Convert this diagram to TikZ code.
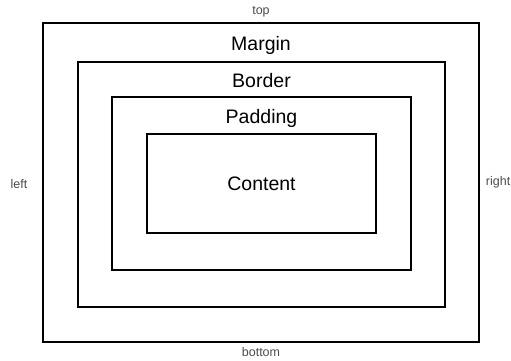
\documentclass[tikz,border=0pt]{standalone}
\usepackage{fontspec}
\setmainfont{Liberation Sans}
\usetikzlibrary{positioning}

\begin{document}
\begin{tikzpicture}[
  x=1pt, y=-1pt,
  layer/.style={draw, line width=1.2pt, inner sep=0pt, outer sep=0pt},
  boxlbl/.style={font=\fontsize{19.5}{22}\selectfont, inner sep=0pt},
  side/.style={font=\fontsize{12.5}{14}\selectfont, text=black!70, inner sep=0pt},
]
  \useasboundingbox (0,0) rectangle (511,360);

  % nested boxes
  \node[layer, minimum width=436pt, minimum height=319pt] (margin) at (261,182.5) {};
  \node[layer, minimum width=367pt, minimum height=245pt] (border) at (261.5,184.5) {};
  \node[layer, minimum width=299pt, minimum height=173pt] (padding) at (261.5,183.5) {};
  \node[layer, minimum width=229pt, minimum height=99pt] (content) at (261.5,183.5) {};

  % box names
  \node[boxlbl, below=13pt of margin.north] (lmargin) {Margin};
  \node[boxlbl, below=11pt of border.north] (lborder) {Border};
  \node[boxlbl, below=12pt of padding.north] (lpadding) {Padding};
  \node[boxlbl] (lcontent) at (content.center) {Content};

  % sides
  \node[side, above=6pt of margin.north] (ltop) {top};
  \node[side, below=5pt of margin.south] (lbottom) {bottom};
  \node[side] (lleft) at (19,184) {left};
  \node[side, anchor=east] (lright) at (510.5,182) {right};

\end{tikzpicture}
\end{document}
